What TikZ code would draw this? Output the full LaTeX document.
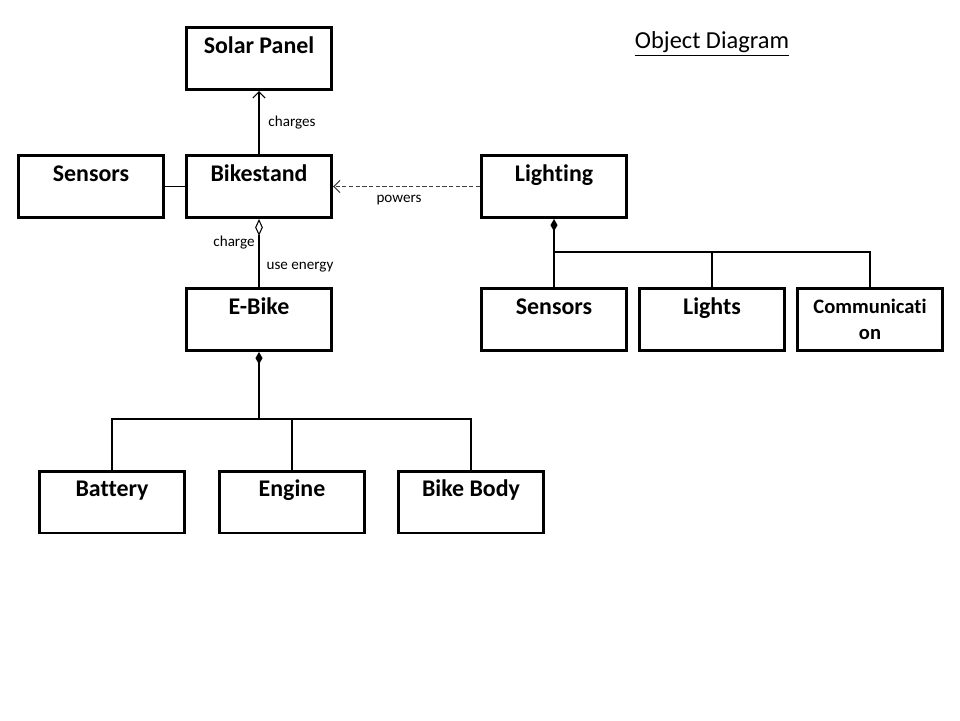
\documentclass[tikz,border=0pt]{standalone}
\usepackage{fontspec}
\setmainfont{Carlito}[Ligatures=NoCommon]
\usetikzlibrary{arrows.meta}

\begin{document}
\begin{tikzpicture}[x=0.02cm, y=-0.02cm, line width=0.6pt,
    box/.style={draw, rectangle, line width=1.7pt, minimum width=2.9cm,
      minimum height=1.24cm, inner sep=0pt},
    obj/.style={box, font=\bfseries\fontsize{13.6}{16}\selectfont,
      text height=0.51cm, text depth=0.73cm},
    objtwo/.style={box, align=center, font=\bfseries\fontsize{11.7}{14.7}\selectfont},
    lbl/.style={font=\fontsize{8.6}{10}\selectfont, inner sep=1pt},
    open head/.style={-{Straight Barb[length=3.6pt, width=7pt]}},
    agg/.style={{Diamond[open, length=9.6pt, width=4.4pt]}-},
    comp/.style={{Diamond[length=7pt, width=4pt]}-}]

    \useasboundingbox (0,0) rectangle (960,720);

    \node[font=\fontsize{13.9}{16}\selectfont] (title) at (712,44) {\underline{Object Diagram}};

    \node[obj] (solarpanel) at (259,58.5) {Solar Panel};
    \node[obj] (sensorsbs) at (91,186.5) {Sensors};
    \node[obj] (bikestand) at (259,186.5) {Bikestand};
    \node[obj] (lighting) at (554,186.5) {Lighting};
    \node[obj] (ebike) at (259,319.5) {E-Bike};

    \node[obj] (sensorsli) at (554,319.5) {Sensors};
    \node[obj] (lights) at (712,319.5) {Lights};
    \node[objtwo] (comm) at (870,319.5) {Communicati\\on};

    \node[obj] (battery) at (112,502) {Battery};
    \node[obj] (engine) at (292,502) {Engine};
    \node[obj] (bikebody) at (471,502) {Bike Body};

    \node[lbl] (lcharges) at (292,123) {charges};
    \node[lbl] (lpowers) at (399,200) {powers};
    \node[lbl] (lcharge) at (234,243) {charge};
    \node[lbl] (luse) at (300,267) {use energy};

    \draw[open head] (bikestand) -- (solarpanel);
    \draw (sensorsbs) -- (bikestand);
    \draw[open head, dash pattern=on 2.4pt off 1.4pt, black!75] (lighting) -- (bikestand);
    \draw[agg] (bikestand) -- (ebike);

    \coordinate (ebjoin) at (259,419);
    \draw[comp] (ebike) -- (ebjoin);
    \draw (battery.north) |- (ebjoin);
    \draw (bikebody.north) |- (ebjoin);
    \draw (engine.north) -- (engine.north |- ebjoin);

    \coordinate (lijoin) at (554,252);
    \draw[comp] (lighting) -- (sensorsli);
    \draw (comm.north) |- (lijoin);
    \draw (lights.north) -- (lights.north |- lijoin);

\end{tikzpicture}
\end{document}
